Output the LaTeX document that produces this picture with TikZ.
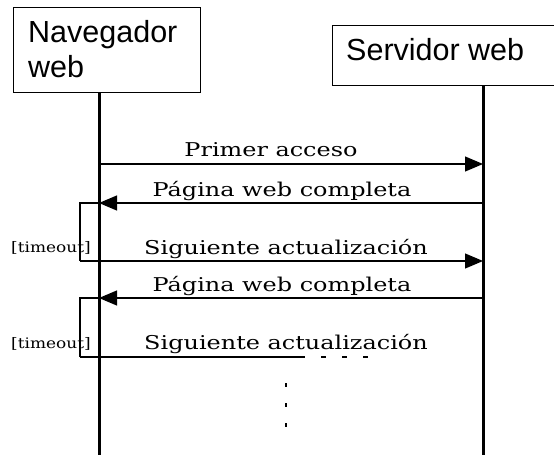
\documentclass[tikz,border=0pt]{standalone}
\usepackage{fontspec}
\setmainfont{DejaVu Serif}
\newfontfamily\boxfont{Liberation Sans}
\newfontfamily\msgfont[FakeStretch=1.26]{DejaVu Serif}
\newfontfamily\guardfont[FakeStretch=1.17]{DejaVu Serif}
\usetikzlibrary{arrows.meta}
\begin{document}
\begin{tikzpicture}[x=1pt,y=-1pt,
  actorbox/.style={draw, line width=1.2pt, inner sep=0pt, anchor=north west},
  actortext/.style={font=\boxfont\fontsize{30.5}{35}\selectfont, anchor=base west, inner sep=0pt},
  lifeline/.style={line width=3pt},
  msg/.style={line width=1.2pt, -{Triangle[length=18pt,width=15pt]}},
  plain/.style={line width=1.2pt},
  msglabel/.style={font=\msgfont\fontsize{19}{21}\selectfont, anchor=base, inner sep=0pt},
  guardlabel/.style={font=\guardfont\fontsize{14.5}{16}\selectfont, anchor=base west, inner sep=0pt}]
\useasboundingbox (0,0) rectangle (554,455);
\clip (0,0) rectangle (554,455);
\fill[white] (0,0) rectangle (554,455);
% actors
\node[actorbox, minimum width=187pt, minimum height=85pt] (nav) at (13,7) {};
\node[actortext] (navt1) at (28,42) {Navegador};
\node[actortext] (navt2) at (28,77) {web};
\node[actorbox, minimum width=240pt, minimum height=60pt] (srv) at (332,25) {};
\node[actortext] (srvt) at (346,60) {Servidor web};
% lifelines
\coordinate (navend) at (99,455);
\coordinate (srvend) at (483,455);
\draw[lifeline] (nav.south -| navend) -- (navend);
\draw[lifeline] (srv.south -| srvend) -- (srvend);
% message end points
\coordinate (n1) at (99,164);  \coordinate (s1) at (483,164);
\coordinate (n2) at (99,203);  \coordinate (s2) at (483,203);
\coordinate (g1) at (80,261);  \coordinate (s3) at (483,261);
\coordinate (g1t) at (80,203);
\coordinate (n4) at (99,298);  \coordinate (s4) at (483,298);
\coordinate (g2t) at (80,298);
\coordinate (g2) at (80,357);  \coordinate (m5) at (305,357);
\coordinate (d5) at (368,357);
% messages
\draw[msg] (n1) -- (s1);
\node[msglabel] (l1) at (271,156) {Primer acceso};
\draw[msg] (s2) -- (n2);
\node[msglabel] (l2) at (282,196) {Página web completa};
\draw[plain] (n2) -- (g1t) -- (g1);
\draw[msg] (g1) -- (s3);
\node[guardlabel] (t1) at (11,252) {[timeout]};
\node[msglabel] (l3) at (286,254) {Siguiente actualización};
\draw[msg] (s4) -- (n4);
\node[msglabel] (l4) at (282,291) {Página web completa};
\draw[plain] (n4) -- (g2t) -- (g2);
\draw[plain] (g2) -- (m5);
\draw[plain, dash pattern=on 0pt off 16pt on 5pt off 0pt] (m5) -- (d5);
\node[guardlabel] (t2) at (11,348) {[timeout]};
\node[msglabel] (l5) at (286,349) {Siguiente actualización};
% continuation dots
\coordinate (c1) at (286,383);
\coordinate (c2) at (286,403);
\coordinate (c3) at (286,423);
\draw[line width=1.2pt] (c1) -- ++(0,4);
\draw[line width=1.2pt] (c2) -- ++(0,4);
\draw[line width=1.2pt] (c3) -- ++(0,4);
\end{tikzpicture}
\end{document}
